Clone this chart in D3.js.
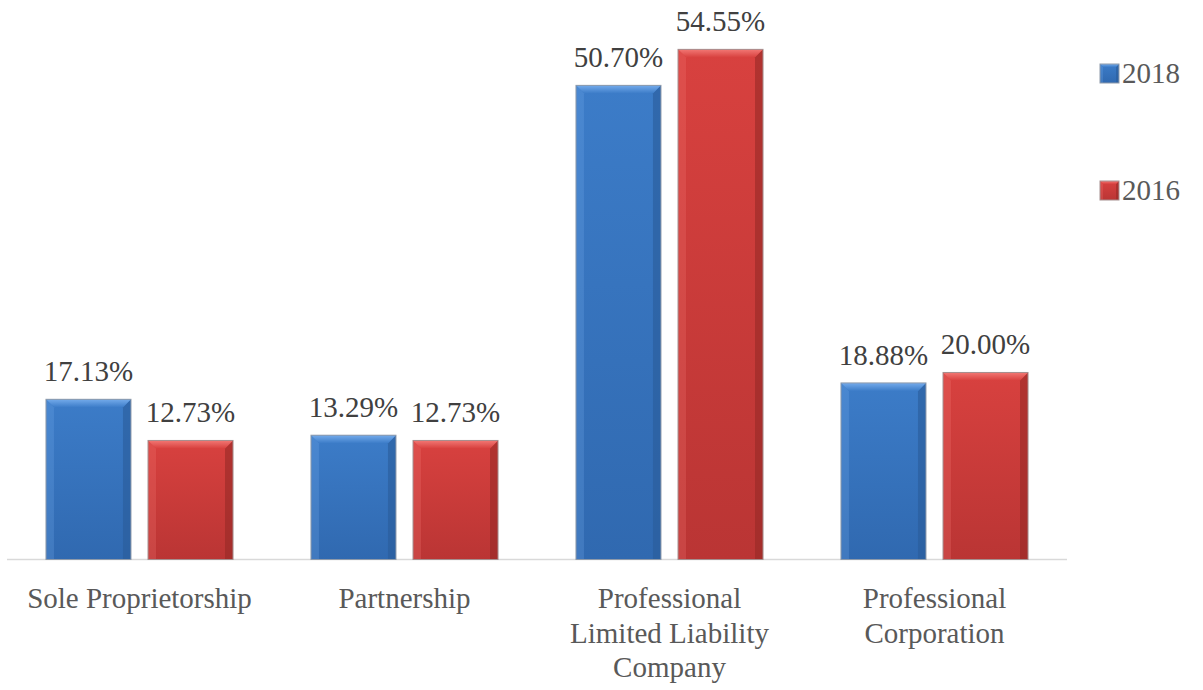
<!DOCTYPE html>
<html>
<head>
<meta charset="utf-8">
<script src="https://cdn.jsdelivr.net/npm/d3@7/dist/d3.min.js"></script>
</head>
<body style="margin:0">
<svg id="chart" width="1203" height="690"></svg>
<script>
// Business entity type shares, two survey years
const categories = ["Sole Proprietorship", "Partnership", "Professional\nLimited Liability\nCompany", "Professional\nCorporation"];
const seriesNames = ["2018", "2016"];
const values2018 = [17.13, 13.29, 50.70, 18.88];
const values2016 = [12.73, 12.73, 54.55, 20.00];
const valueLabels2018 = ["17.13%", "13.29%", "50.70%", "18.88%"];
const valueLabels2016 = ["12.73%", "12.73%", "54.55%", "20.00%"];

const svg = d3.select("#chart");

// Serif face applied to every text element
function serif(sel) {
  return sel.style("font-family", "Times New Roman")
    .style("font-size", "29px");
}

const plot = { left: 7, right: 1067, bottom: 559.5 };

const x0 = d3.scaleBand().domain(categories).range([plot.left, plot.right]).paddingInner(0).paddingOuter(0);
const x1 = d3.scaleBand().domain(seriesNames).range([0, x0.bandwidth()]).paddingInner(0.167).paddingOuter(0.382);
const y = d3.scaleLinear().domain([0, 60]).range([plot.bottom, -1.6]);

const palette = {
  "2018": { top: "#3c7cc8", bottom: "#3069b0", light: "#74abeb", dark: "#2a5c99", edge: "#8e9aaa" },
  "2016": { top: "#d8413f", bottom: "#ba3534", light: "#f27874", dark: "#962927", edge: "#a58f8f" }
};

const defs = svg.append("defs");
seriesNames.forEach(s => {
  const g = defs.append("linearGradient").attr("id", "face" + s).attr("x1", 0).attr("y1", 0).attr("x2", 0).attr("y2", 1);
  g.append("stop").attr("offset", "0%").attr("stop-color", palette[s].top);
  g.append("stop").attr("offset", "100%").attr("stop-color", palette[s].bottom);
  const t = defs.append("linearGradient").attr("id", "bevelTop" + s).attr("x1", 0).attr("y1", 0).attr("x2", 0).attr("y2", 1);
  t.append("stop").attr("offset", "0%").attr("stop-color", palette[s].light);
  t.append("stop").attr("offset", "100%").attr("stop-color", palette[s].top);
});

// Horizontal category axis line
svg.append("line")
  .attr("x1", plot.left).attr("x2", plot.right)
  .attr("y1", plot.bottom).attr("y2", plot.bottom)
  .attr("stroke", "#d9d9d9").attr("stroke-width", 1.5);

const rows = categories.map((c, i) => ({
  category: c,
  items: [
    { series: "2018", value: values2018[i], label: valueLabels2018[i] },
    { series: "2016", value: values2016[i], label: valueLabels2016[i] }
  ]
}));

// Draws a bar with a soft bevelled edge
function bevelBar(g, bx, by, bw, bh, s, b) {
  const p = palette[s];
  g.append("rect").attr("x", bx).attr("y", by).attr("width", bw).attr("height", bh)
    .attr("fill", `url(#face${s})`);
  // left edge
  g.append("polygon").attr("points", [[bx, by], [bx + b, by + b], [bx + b, by + bh], [bx, by + bh]].join(" "))
    .attr("fill", p.light).attr("opacity", 0.25);
  // right edge
  g.append("polygon").attr("points", [[bx + bw, by], [bx + bw - b, by + b], [bx + bw - b, by + bh], [bx + bw, by + bh]].join(" "))
    .attr("fill", p.dark).attr("opacity", 0.6);
  // top edge highlight
  g.append("polygon").attr("points", [[bx, by], [bx + bw, by], [bx + bw - b, by + b], [bx + b, by + b]].join(" "))
    .attr("fill", `url(#bevelTop${s})`);
  g.append("rect").attr("x", bx).attr("y", by).attr("width", bw).attr("height", bh)
    .attr("fill", "none").attr("stroke", p.edge).attr("stroke-width", 1);
}

const groups = svg.selectAll("g.cat").data(rows).join("g")
  .attr("class", "cat")
  .attr("transform", d => `translate(${x0(d.category)},0)`);

groups.each(function(d) {
  const g = d3.select(this);
  d.items.forEach(it => {
    const bx = x1(it.series), bw = x1.bandwidth();
    const by = y(it.value), bh = y(0) - y(it.value);
    bevelBar(g.append("g"), bx, by, bw, bh, it.series, 8);
    serif(g.append("text"))
      .attr("x", bx + bw / 2).attr("y", by - 18)
      .attr("text-anchor", "middle")
      .attr("fill", "#404040")
      .text(it.label);
  });
});

// Category labels, one tspan per line
groups.each(function(d) {
  const t = serif(d3.select(this).append("text"))
    .attr("text-anchor", "middle")
    .attr("fill", "#595959");
  d.category.split("\n").forEach((ln, k) => {
    t.append("tspan").attr("x", x0.bandwidth() / 2).attr("y", 608 + k * 34.5).text(ln);
  });
});

// Legend
const legend = svg.append("g").attr("transform", "translate(1100,0)");
const legendRows = [{ s: "2018", y: 83 }, { s: "2016", y: 200 }];
legendRows.forEach(r => {
  const g = legend.append("g");
  bevelBar(g, 0, r.y - 19, 19, 19, r.s, 3);
  serif(legend.append("text"))
    .attr("x", 22).attr("y", r.y)
    .attr("fill", "#595959")
    .text(r.s);
});
</script>
</body>
</html>
